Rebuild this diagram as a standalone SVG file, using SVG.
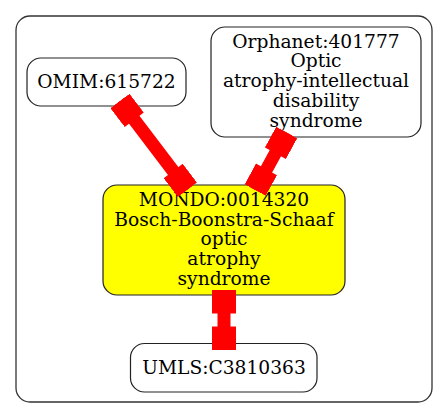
<svg xmlns="http://www.w3.org/2000/svg" width="448" height="419" viewBox="0 0 448 419">
<style>
.cluster{fill:#fff;stroke:#333;stroke-width:1.3}
.node{fill:#fff;stroke:#222;stroke-width:1.2}
.mondo{fill:#ffff00}
text{font-family:"DejaVu Serif","Liberation Serif",serif;font-size:18.67px;fill:#000;text-anchor:middle}
.edge{stroke:#ff0000;stroke-width:13;fill:none;marker-start:url(#box);marker-end:url(#box)}
</style>
<defs>
<marker id="box" viewBox="-24 -12 24 24" refX="0" refY="0" markerWidth="24" markerHeight="24" markerUnits="userSpaceOnUse" orient="auto-start-reverse">
<rect x="-23.5" y="-12" width="23.5" height="24" fill="#ff0000"/>
</marker>
</defs>
<rect width="448" height="419" fill="#fff"/>
<rect class="cluster" x="16" y="16" width="416" height="386" rx="14" ry="14"/>
<g id="OMIM_615722">
<rect class="node" x="27" y="58" width="159" height="48" rx="14" ry="14"/>
<text x="106.5" y="87.5">OMIM:615722</text>
</g>
<g id="Orphanet_401777">
<rect class="node" x="211" y="27" width="210" height="110" rx="14" ry="14"/>
<text x="316" y="47.5">Orphanet:401777</text>
<text x="316" y="67.3">Optic</text>
<text x="316" y="87.1">atrophy-intellectual</text>
<text x="316" y="106.9">disability</text>
<text x="316" y="126.7">syndrome</text>
</g>
<g id="MONDO_0014320">
<rect class="node mondo" x="103" y="185" width="242" height="110" rx="14" ry="14"/>
<text x="224" y="205.7">MONDO:0014320</text>
<text x="224" y="225.5">Bosch-Boonstra-Schaaf</text>
<text x="224" y="245.3">optic</text>
<text x="224" y="265.1">atrophy</text>
<text x="224" y="284.9">syndrome</text>
</g>
<g id="UMLS_C3810363">
<rect class="node" x="130.5" y="343.5" width="186.5" height="48.5" rx="14" ry="14"/>
<text x="224" y="373.5">UMLS:C3810363</text>
</g>
<g id="edges">
<path class="edge" d="M120,101 L187.4,189.7"/>
<path class="edge" d="M286.7,132.5 L255.2,190"/>
<path class="edge" d="M224,290 L224,350"/>
</g>
</svg>
